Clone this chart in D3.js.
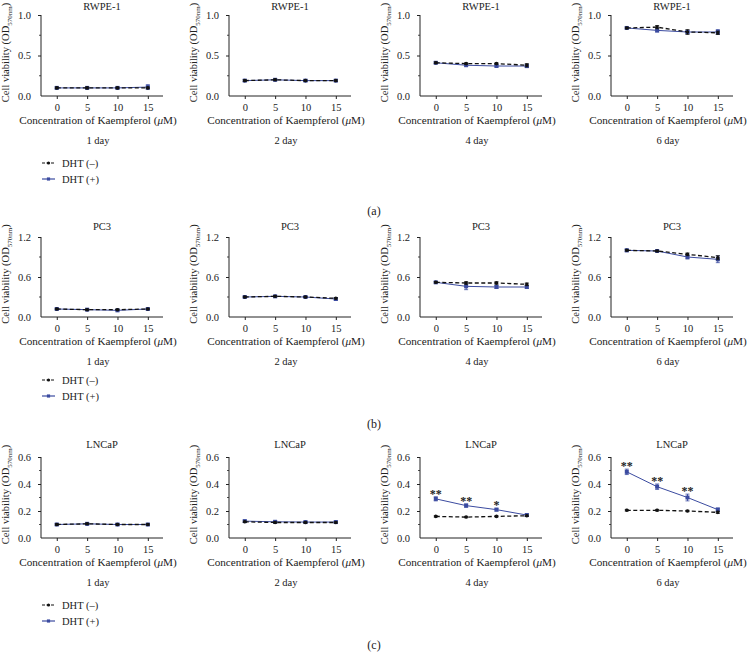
<!DOCTYPE html>
<html><head><meta charset="utf-8">
<script src="https://cdn.jsdelivr.net/npm/d3@7"></script>
<style>body{margin:0;background:#fff}svg{display:block}text{font-family:"Liberation Serif","DejaVu Serif",serif;fill:#222}</style>
</head><body><svg id="c" width="748" height="662"></svg>
<script>
const concentrations = [0, 5, 10, 15];
const days = ["1 day", "2 day", "4 day", "6 day"];
const cellLines = ["RWPE-1", "PC3", "LNCaP"];
const yTicksRWPE = [0.0, 0.5, 1.0];
const yTicksPC3 = [0.0, 0.6, 1.2];
const yTicksLNCaP = [0.0, 0.2, 0.4, 0.6];
const panelLabels = ["(a)", "(b)", "(c)"];
const legendLabels = ["DHT (\u2013)", "DHT (+)"];

// RWPE-1 values per day
const rwpeMinus = [[0.10, 0.10, 0.10, 0.10], [0.19, 0.20, 0.19, 0.19], [0.41, 0.40, 0.40, 0.38], [0.84, 0.85, 0.79, 0.78]];
const rwpePlus  = [[0.10, 0.10, 0.10, 0.11], [0.19, 0.20, 0.19, 0.19], [0.41, 0.38, 0.37, 0.37], [0.84, 0.81, 0.79, 0.79]];
const rwpeMinusErr = [[0.01, 0.01, 0.01, 0.01], [0.01, 0.01, 0.01, 0.01], [0.01, 0.01, 0.01, 0.02], [0.01, 0.02, 0.03, 0.02]];
const rwpePlusErr  = [[0.01, 0.01, 0.01, 0.03], [0.01, 0.01, 0.01, 0.01], [0.01, 0.01, 0.01, 0.02], [0.01, 0.02, 0.02, 0.03]];
// PC3
const pc3Minus = [[0.12, 0.11, 0.11, 0.12], [0.30, 0.31, 0.30, 0.28], [0.52, 0.51, 0.51, 0.49], [1.00, 0.99, 0.94, 0.89]];
const pc3Plus  = [[0.12, 0.11, 0.10, 0.12], [0.30, 0.31, 0.30, 0.27], [0.52, 0.46, 0.45, 0.45], [1.00, 0.99, 0.90, 0.865]];
const pc3MinusErr = [[0.01, 0.01, 0.01, 0.01], [0.01, 0.01, 0.01, 0.01], [0.01, 0.02, 0.02, 0.02], [0.01, 0.01, 0.02, 0.03]];
const pc3PlusErr  = [[0.01, 0.01, 0.01, 0.01], [0.01, 0.01, 0.01, 0.02], [0.01, 0.05, 0.02, 0.02], [0.02, 0.01, 0.03, 0.05]];
// LNCaP
const lncapMinus = [[0.10, 0.105, 0.10, 0.10], [0.12, 0.115, 0.115, 0.115], [0.16, 0.155, 0.16, 0.165], [0.205, 0.205, 0.20, 0.19]];
const lncapPlus  = [[0.10, 0.105, 0.10, 0.10], [0.125, 0.12, 0.118, 0.118], [0.29, 0.24, 0.21, 0.17], [0.49, 0.38, 0.30, 0.21]];
const lncapMinusErr = [[0.005, 0.005, 0.005, 0.005], [0.005, 0.005, 0.005, 0.005], [0.005, 0.005, 0.005, 0.005], [0.005, 0.005, 0.005, 0.008]];
const lncapPlusErr  = [[0.005, 0.008, 0.005, 0.005], [0.008, 0.008, 0.005, 0.008], [0.015, 0.012, 0.01, 0.01], [0.02, 0.02, 0.025, 0.012]];
const lncapStars = [[null, null, null, null], [null, null, null, null], ["**", "**", "*", null], ["**", "**", "**", null]];

const rows = [
  {name: cellLines[0], ticks: yTicksRWPE, max: 1.0, minus: rwpeMinus, plus: rwpePlus, mErr: rwpeMinusErr, pErr: rwpePlusErr, top: 15, bottom: 96, label: panelLabels[0], labelY: 215, titleOff: 5},
  {name: cellLines[1], ticks: yTicksPC3, max: 1.2, minus: pc3Minus, plus: pc3Plus, mErr: pc3MinusErr, pErr: pc3PlusErr, top: 237, bottom: 317, label: panelLabels[1], labelY: 428, titleOff: 7},
  {name: cellLines[2], ticks: yTicksLNCaP, max: 0.6, minus: lncapMinus, plus: lncapPlus, mErr: lncapMinusErr, pErr: lncapPlusErr, stars: lncapStars, top: 457, bottom: 538, label: panelLabels[2], labelY: 649, titleOff: 9}
];
const panelX = [41, 229, 420, 611];
const panelW = 122;
const blue = "#3b4ba0";
const FS = 10.5;

const svg = d3.select("#c");

rows.forEach((row, ri) => {
  days.forEach((day, di) => {
    const x0 = panelX[di];
    const g = svg.append("g");
    const x = d3.scaleLinear().domain([-2.6, 17.5]).range([x0, x0 + panelW]);
    const y = d3.scaleLinear().domain([0, row.max]).range([row.bottom, row.top]);

    // y axis
    const step = row.ticks[1] - row.ticks[0];
    const minor = row.ticks.slice(0, -1).map(t => t + step / 2);
    const ya = g.append("g").attr("transform", `translate(${x0},0)`)
      .call(d3.axisLeft(y).tickValues(row.ticks).tickFormat(d3.format(".1f")).tickSize(3).tickPadding(7));
    ya.selectAll(".tick").filter(d => d === 0).select("line").remove();
    ya.select(".domain").attr("d", `M0,${row.top}V${row.bottom}`);
    minor.forEach(m => g.append("line").attr("x1", x0 - 2).attr("x2", x0).attr("y1", y(m)).attr("y2", y(m)).attr("stroke", "#222").attr("stroke-width", 0.8));
    ya.selectAll("text").attr("font-size", 10.5).style("font-family", "Liberation Serif");
    ya.selectAll("line,path").attr("stroke", "#222").attr("stroke-width", 1);

    // x axis
    const xa = g.append("g").attr("transform", `translate(0,${row.bottom})`)
      .call(d3.axisBottom(x).tickValues(concentrations).tickSize(3).tickPadding(5));
    xa.select(".domain").attr("d", `M${x0},0H${x0 + panelW}`);
    xa.selectAll("text").attr("font-size", 10.5).style("font-family", "Liberation Serif");
    xa.selectAll("line,path").attr("stroke", "#222").attr("stroke-width", 1);

    // titles
    g.append("text").attr("x", x0 + panelW / 2).attr("y", row.top - row.titleOff).attr("text-anchor", "middle").attr("font-size", FS).text(row.name);
    g.append("text").attr("x", x0 + panelW / 2 - 4).attr("y", row.bottom + 28).attr("text-anchor", "middle").attr("font-size", 11.2)
      .html('Concentration of Kaempferol (<tspan font-style="italic">μ</tspan>M)');
    g.append("text").attr("x", x0 + panelW / 2 - 4).attr("y", row.bottom + 48).attr("text-anchor", "middle").attr("font-size", FS).text(day);
    const yl = g.append("text").attr("transform", `translate(${x0 - 32},${(row.top + row.bottom) / 2 - 3}) rotate(-90)`).attr("text-anchor", "middle").attr("font-size", FS);
    yl.append("tspan").text("Cell viability (OD");
    yl.append("tspan").attr("font-size", 7).attr("dy", 2.5).text("570nm");
    yl.append("tspan").attr("dy", -2.5).text(")");

    // series
    const series = [
      {vals: row.plus[di], err: row.pErr[di], color: blue, dash: null, shape: "square"},
      {vals: row.minus[di], err: row.mErr[di], color: "#111", dash: "4,2.5", shape: "circle"}
    ];
    series.forEach(s => {
      const pts = concentrations.map((c, i) => [c, s.vals[i], s.err[i]]);
      g.append("path").datum(pts).attr("fill", "none").attr("stroke", s.color).attr("stroke-width", s.dash ? 1.3 : 1)
        .attr("stroke-dasharray", s.dash).attr("d", d3.line().x(d => x(d[0])).y(d => y(d[1])));
      pts.forEach(p => {
        g.append("line").attr("x1", x(p[0])).attr("x2", x(p[0])).attr("y1", y(p[1] - p[2])).attr("y2", y(p[1] + p[2])).attr("stroke", s.color).attr("stroke-width", 1);
        g.append("line").attr("x1", x(p[0]) - 2).attr("x2", x(p[0]) + 2).attr("y1", y(p[1] - p[2])).attr("y2", y(p[1] - p[2])).attr("stroke", s.color).attr("stroke-width", 0.8);
        g.append("line").attr("x1", x(p[0]) - 2).attr("x2", x(p[0]) + 2).attr("y1", y(p[1] + p[2])).attr("y2", y(p[1] + p[2])).attr("stroke", s.color).attr("stroke-width", 0.8);
      });
      const sym = d3.symbol().type(s.shape === "square" ? d3.symbolSquare : d3.symbolCircle).size(s.shape === "square" ? 16 : 10);
      g.selectAll(null).data(pts).enter().append("path").attr("d", sym)
        .attr("transform", d => `translate(${x(d[0])},${y(d[1])})`).attr("fill", s.color);
    });
    if (row.stars) {
      row.stars[di].forEach((st, i) => {
        if (!st) return;
        const v = row.plus[di][i] + row.pErr[di][i];
        g.append("text").attr("x", x(concentrations[i])).attr("y", y(v) + 1).attr("text-anchor", "middle").attr("font-size", 12).attr("font-weight", "bold").text(st);
      });
    }
  });

  // legend
  const ly = row.bottom + (ri === 1 ? 63 : 67);
  [{c: "#111", d: "3,1.5", s: d3.symbolCircle, z: 8}, {c: blue, d: null, s: d3.symbolSquare, z: 10}].forEach((l, i) => {
    const yy = ly + i * 16;
    svg.append("line").attr("x1", 42).attr("x2", 55).attr("y1", yy).attr("y2", yy).attr("stroke", l.c).attr("stroke-width", 1.2).attr("stroke-dasharray", l.d);
    svg.append("path").attr("d", d3.symbol().type(l.s).size(l.z)).attr("transform", `translate(48.5,${yy})`).attr("fill", l.c);
    svg.append("text").attr("x", 62).attr("y", yy + 3.5).attr("font-size", FS).text(legendLabels[i]);
  });
  svg.append("text").attr("x", 374).attr("y", row.labelY).attr("text-anchor", "middle").attr("font-size", 12).text(row.label);
});
</script></body></html>
